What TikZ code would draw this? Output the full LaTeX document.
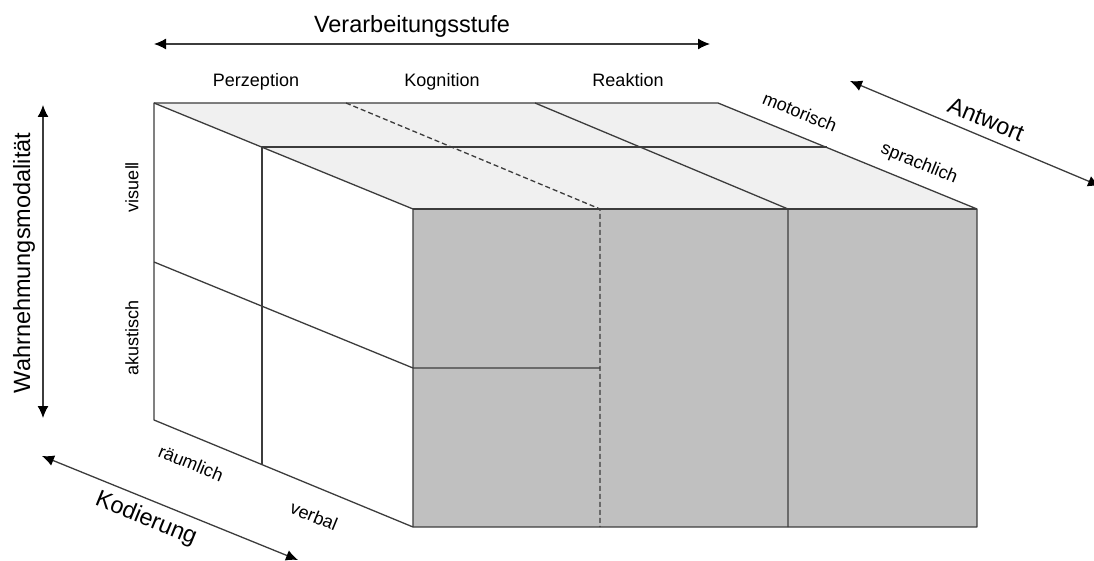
\documentclass[tikz,border=0pt]{standalone}
\usepackage{fontspec}
\setmainfont{Liberation Sans}
\usetikzlibrary{arrows.meta}
\definecolor{edge}{HTML}{3C3C3C}
\definecolor{topface}{HTML}{F0F0F0}
\definecolor{frontface}{HTML}{C0C0C0}
\begin{document}
\begin{tikzpicture}[x=1pt,y=-1pt,
  edgeline/.style={draw=edge,line width=1.3pt,line join=round},
  dashline/.style={draw=edge,line width=1.3pt,dash pattern=on 5pt off 3pt},
  axisarrow/.style={draw=edge,line width=1.3pt,
    {Latex[length=12pt,width=11pt,color=black]}-{Latex[length=12pt,width=11pt,color=black]}},
  biglabel/.style={font=\fontsize{23.5}{26}\selectfont,inner sep=0pt},
  smalllabel/.style={font=\fontsize{18}{20}\selectfont,inner sep=0pt},
]
\useasboundingbox (0,0) rectangle (1094,561);

% corners of the block
\coordinate (btl) at (154,103);
\coordinate (btr) at (718,103);
\coordinate (ftl) at (413,209);
\coordinate (ftr) at (977,209);
\coordinate (fbl) at (413,527);
\coordinate (fbr) at (977,527);
\coordinate (bbl) at (154,420);
% split between the two coding layers
\coordinate (mtl) at (262,147);
\coordinate (mtr) at (827,147);
\coordinate (mbl) at (262,465);
% split between the modalities
\coordinate (lml) at (154,262);
\coordinate (lmr) at (413,368);
\coordinate (fmr) at (600,368);
% stage boundaries
\coordinate (s1b) at (346,103);
\coordinate (s1f) at (600,209);
\coordinate (s1d) at (600,527);
\coordinate (s2b) at (535,103);
\coordinate (s2f) at (788,209);
\coordinate (s2d) at (788,527);

% faces
\fill[white] (btl) -- (ftl) -- (fbl) -- (bbl) -- cycle;
\fill[topface] (btl) -- (btr) -- (ftr) -- (ftl) -- cycle;
\fill[frontface] (ftl) rectangle (fbr);

% grid lines
\draw[dashline] (s1b) -- (s1f) -- (s1d);
\draw[edgeline] (s2b) -- (s2f) -- (s2d);
\draw[edgeline] (mtr) -- (mtl) -- (mbl);
\draw[edgeline] (lml) -- (lmr) -- (fmr);

% edges of the block
\draw[edgeline] (btl) -- (btr) -- (ftr) -- (fbr) -- (fbl) -- (bbl) -- cycle;
\draw[edgeline] (btl) -- (ftl) -- (fbl);
\draw[edgeline] (ftl) -- (ftr);

% axes
\coordinate (va) at (154,44);
\coordinate (vb) at (710,44);
\draw[axisarrow] (va) -- (vb);
\coordinate (wa) at (43,105);
\coordinate (wb) at (43,418);
\draw[axisarrow] (wa) -- (wb);
\coordinate (aa) at (850,81);
\coordinate (ab) at (1100,186);
\draw[axisarrow] (aa) -- (ab);
\coordinate (ka) at (42,456);
\coordinate (kb) at (298,560);
\draw[axisarrow] (ka) -- (kb);

% axis titles
\node[biglabel,anchor=base] (tstufe) at (412,33) {Verarbeitungsstufe};
\node[biglabel,rotate=90] (tmod) at (24,263) {Wahrnehmungsmodalität};
\node[biglabel,rotate=-22.3] (tantw) at (986,119) {Antwort};
\node[biglabel,rotate=-22.3] (tkod) at (146,519) {Kodierung};

% category labels
\node[smalllabel,anchor=base] (lper) at (256,87) {Perzeption};
\node[smalllabel,anchor=base] (lkog) at (442,87) {Kognition};
\node[smalllabel,anchor=base] (lrea) at (628,87) {Reaktion};
\node[smalllabel,rotate=90] (lvis) at (132,187) {visuell};
\node[smalllabel,rotate=90] (laku) at (132,338) {akustisch};
\node[smalllabel,rotate=-22.3] (lmot) at (800,112) {motorisch};
\node[smalllabel,rotate=-22.3] (lspr) at (919,164) {sprachlich};
\node[smalllabel,rotate=-22.3] (lrau) at (191,463) {räumlich};
\node[smalllabel,rotate=-22.3] (lver) at (314,516) {verbal};
\end{tikzpicture}
\end{document}
